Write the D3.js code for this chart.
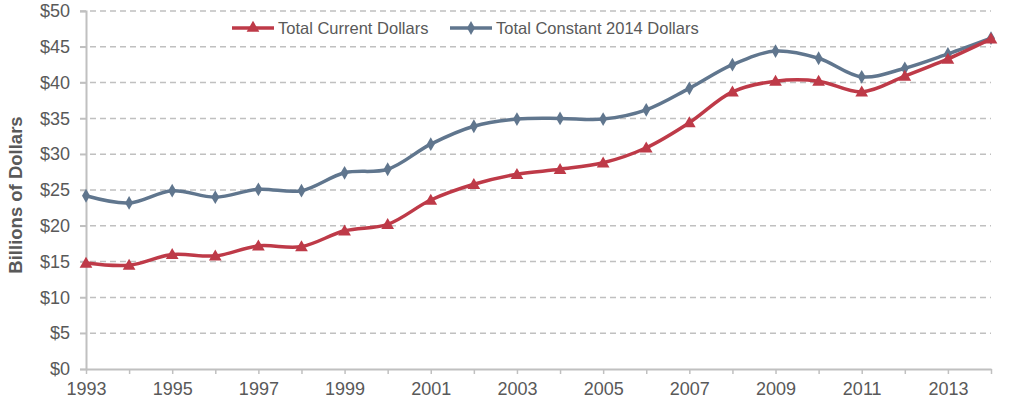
<!DOCTYPE html>
<html>
<head>
<meta charset="utf-8">
<script src="https://cdn.jsdelivr.net/npm/d3@7"></script>
<style>
  body { margin: 0; background: #fff; }
  svg { display: block; font-family: 'Liberation Sans', Arial, sans-serif; }
</style>
</head>
<body>
<div id="chart"></div>
<script>
const years = d3.range(1993, 2015);
const currentDollars = [14.8, 14.5, 16.0, 15.8, 17.2, 17.1, 19.3, 20.2, 23.6, 25.8, 27.2,
  27.9, 28.8, 30.9, 34.4, 38.7, 40.2, 40.2, 38.7, 40.9, 43.3, 46.1];
const constantDollars = [24.2, 23.2, 24.9, 24.0, 25.1, 24.9, 27.4, 27.9, 31.4, 33.9, 34.9,
  35.0, 34.9, 36.2, 39.2, 42.5, 44.4, 43.4, 40.8, 42.0, 44.0, 46.2];
const yTicks = d3.range(0, 51, 5);
const seriesNames = ['Total Current Dollars', 'Total Constant 2014 Dollars'];

const width = 1027;
const height = 406;
const marginLeft = 86;
const marginRight = 36;
const marginTop = 11;
const marginBottom = 37;

const colors = ['#BE3A48', '#60768E'];
const textColor = '#595959';
const gridColor = '#C0C0C0';

const xScale = d3.scaleLinear()
  .domain([1993, 2014])
  .range([marginLeft, width - marginRight]);

const yScale = d3.scaleLinear()
  .domain([0, 50])
  .range([height - marginBottom, marginTop]);

const svg = d3.select('#chart')
  .append('svg')
  .attr('width', width)
  .attr('height', height);

// gridlines
svg.append('g')
  .selectAll('line')
  .data(yTicks.filter((d) => d > 0))
  .join('line')
  .attr('x1', marginLeft - 6)
  .attr('x2', width - marginRight)
  .attr('y1', (d) => yScale(d))
  .attr('y2', (d) => yScale(d))
  .attr('stroke', gridColor)
  .attr('stroke-width', 1.5)
  .attr('stroke-dasharray', '6,4');

// y axis
svg.append('g')
  .attr('transform', `translate(${marginLeft},0)`)
  .call(d3.axisLeft(yScale).tickValues(yTicks).tickSize(6).tickPadding(10)
    .tickFormat((d) => `$${d}`))
  .call((g) => g.select('.domain').attr('stroke', gridColor).attr('stroke-width', 2))
  .call((g) => g.selectAll('.tick line').attr('stroke', gridColor).attr('stroke-width', 1.5))
  .call((g) => g.selectAll('.tick text')
    .attr('fill', textColor).style('font-size', '18px'));

// x axis
svg.append('g')
  .attr('transform', `translate(0,${height - marginBottom})`)
  .call(d3.axisBottom(xScale).tickValues(years).tickSize(5).tickPadding(8)
    .tickFormat((d) => (d % 2 === 1 ? d : '')).tickSizeOuter(0))
  .call((g) => g.select('.domain').attr('stroke', gridColor).attr('stroke-width', 2))
  .call((g) => g.selectAll('.tick line').attr('stroke', gridColor).attr('stroke-width', 1.5))
  .call((g) => g.selectAll('.tick text')
    .attr('fill', textColor).style('font-size', '18px'));

// y axis title
svg.append('text')
  .attr('transform', `translate(22,${(yScale(0) + yScale(50)) / 2 + 5}) rotate(-90)`)
  .attr('text-anchor', 'middle')
  .attr('fill', textColor)
  .style('font-size', '18.5px')
  .style('font-weight', 'bold')
  .text('Billions of Dollars');

const line = d3.line()
  .x((d, i) => xScale(years[i]))
  .y((d) => yScale(d))
  .curve(d3.curveCatmullRom.alpha(0.5));

const triangle = d3.symbol().type(d3.symbolTriangle).size(70);
const diamond = d3.symbol().type(d3.symbolDiamond).size(55);
const markers = [triangle, diamond];

[constantDollars, currentDollars].forEach((values) => {
  const k = values === currentDollars ? 0 : 1;
  svg.append('path')
    .datum(values)
    .attr('fill', 'none')
    .attr('stroke', colors[k])
    .attr('stroke-width', 3.5)
    .attr('d', line);

  svg.append('g')
    .selectAll('path')
    .data(values)
    .join('path')
    .attr('transform', (d, i) => `translate(${xScale(years[i])},${yScale(d) + (k === 0 ? 1 : 0)})`)
    .attr('fill', colors[k])
    .attr('d', markers[k]);
});

// legend
const legendX = [232, 450];
const legend = svg.append('g')
  .selectAll('g')
  .data(seriesNames)
  .join('g')
  .attr('transform', (d, i) => `translate(${legendX[i]},28)`);

legend.append('line')
  .attr('x1', 0)
  .attr('x2', 42)
  .attr('stroke', (d, i) => colors[i])
  .attr('stroke-width', 3.5);

legend.append('path')
  .attr('transform', 'translate(21,0)')
  .attr('fill', (d, i) => colors[i])
  .attr('d', (d, i) => markers[i]());

legend.append('text')
  .attr('x', 46)
  .attr('y', 6)
  .attr('fill', textColor)
  .style('font-size', '16.5px')
  .text((d) => d);
</script>
</body>
</html>
